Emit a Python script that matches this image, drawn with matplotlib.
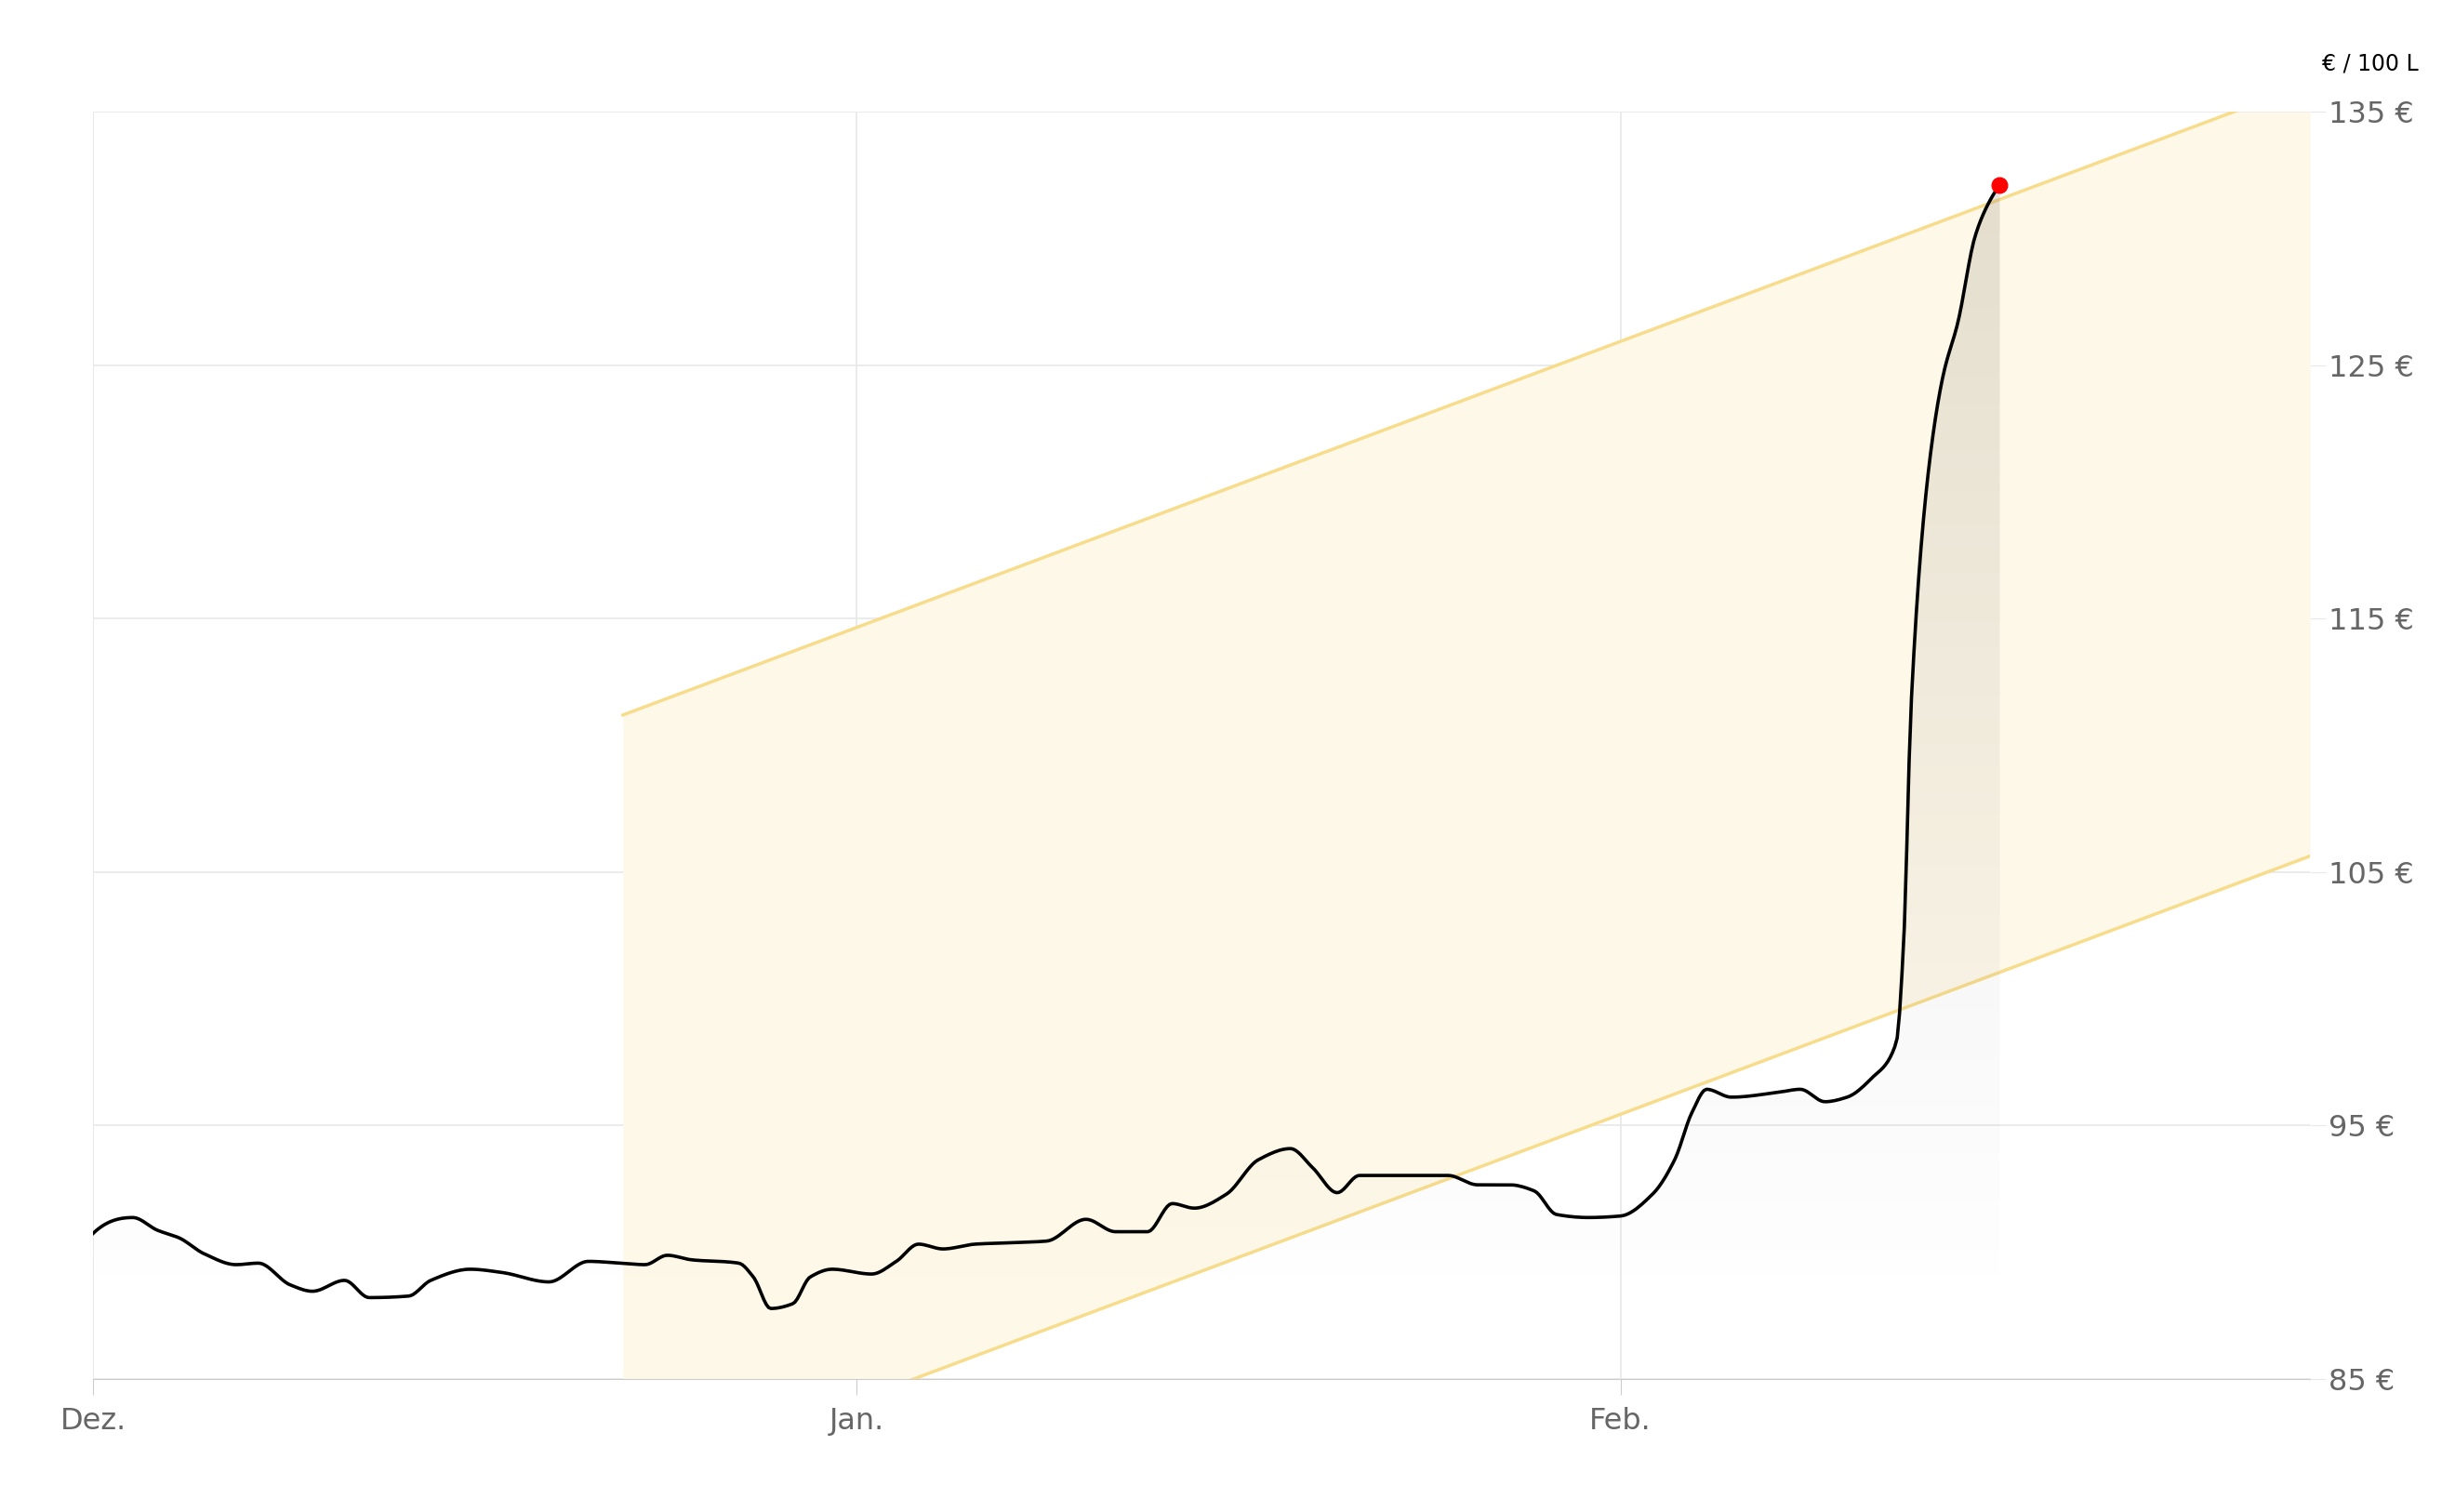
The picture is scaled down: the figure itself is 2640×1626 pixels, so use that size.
import matplotlib
matplotlib.use("Agg")
import matplotlib.pyplot as plt
import numpy as np
from matplotlib.patches import Polygon
from matplotlib.colors import LinearSegmentedColormap

# days since 1 Dec
days = [0,1.6,2.6,3.5,4.5,5.8,6.7,8.0,8.9,10.2,11.2,12.8,13.7,15.3,16.6,18.5,20.1,21.4,22.4,23.3,24.3,26.2,26.8,27.5,28.4,29.1,30.0,31.6,32.6,33.5,34.5,35.8,37.4,38.7,40.3,41.5,42.8,43.8,44.7,46.0,47.3,48.6,49.5,50.5,51.4,52.7,55.0,56.2,57.5,58.5,59.4,60.7,62.0,63.3,64.2,64.9,65.5,66.5,68.4,69.3,70.3,71.2,72.2,73.2,73.5,73.8,74.5,75.1,75.7,76.4,77.0,77.4]
price = [90.75,91.37,90.87,90.56,89.94,89.51,89.57,88.71,88.46,88.89,88.21,88.27,88.89,89.33,89.20,88.83,89.64,89.57,89.51,89.88,89.70,89.57,89.02,87.78,87.97,89.02,89.33,89.14,89.64,90.32,90.13,90.32,90.38,90.44,91.30,90.81,90.81,91.92,91.74,92.29,93.65,94.09,93.34,92.35,93.03,93.03,93.03,92.66,92.66,92.42,91.49,91.37,91.43,92.29,93.65,95.51,96.43,96.12,96.31,96.43,95.94,96.12,96.87,98.29,102.3,111.6,120.8,124.6,126.7,130.1,131.5,132.1]
channel_start = 21.5
channel_upper_start = 111.2
channel_lower_start = 80.7
channel_slope = 0.364
x_end = 90
tick_pos = [0, 31, 62]
tick_labels = ["Dez.", "Jan.", "Feb."]
y_ticks = [85, 95, 105, 115, 125, 135]

xs = np.linspace(days[0], days[-1], 800)
try:
    from scipy.interpolate import PchipInterpolator
    ys = PchipInterpolator(days, price)(xs)
except Exception:
    ys = np.interp(xs, days, price)

fig = plt.figure(figsize=(26.4, 16.26), dpi=100)
ax = fig.add_axes([0.038, 0.088, 0.903, 0.838])

cx = np.linspace(channel_start, x_end, 200)
up = channel_upper_start + channel_slope * (cx - channel_start)
lo = channel_lower_start + channel_slope * (cx - channel_start)
ax.fill_between(cx, np.clip(lo, 85, 135), np.clip(up, 85, 135), color="#fdf8e8", zorder=1, lw=0)
ax.plot(cx, up, color="#f7dc8c", lw=2.5, zorder=2)
ax.plot(cx, lo, color="#f7dc8c", lw=2.5, zorder=2)

grad = np.linspace(0, 1, 256).reshape(-1, 1)
cmap = LinearSegmentedColormap.from_list("g", [(0.5, 0.5, 0.5, 0.0), (0.45, 0.4, 0.35, 0.18)])
im = ax.imshow(grad, extent=[0, days[-1], 88, max(price)], origin="lower", aspect="auto", cmap=cmap, zorder=3)
poly = Polygon(np.column_stack([np.r_[xs, xs[-1], xs[0]], np.r_[ys, 88, 88]]), transform=ax.transData, closed=True)
im.set_clip_path(poly)
ax.set_xlim(0, x_end); ax.set_ylim(85, 135)

ax.plot(xs, ys, color="black", lw=2.6, zorder=4)
ax.plot(days[-1], price[-1], "o", color="red", ms=12, zorder=5)

for s in ["top", "left", "right"]:
    ax.spines[s].set_visible(False)
ax.spines["bottom"].set_color("#cccccc")
ax.grid(True, color="#e8e8e8", lw=1.2, zorder=0)
ax.set_axisbelow(True)
ax.axvline(0, color="#e8e8e8", lw=1.2, zorder=0)
ax.set_xticks(tick_pos)
ax.set_xticklabels(tick_labels, fontsize=23, color="#666666")
ax.set_yticks(y_ticks)
ax.set_yticklabels([f"{v} €" for v in y_ticks], fontsize=23, color="#666666")
ax.yaxis.tick_right()
ax.tick_params(axis="y", length=12, color="#e8e8e8", pad=2)
ax.tick_params(axis="x", length=12, color="#cccccc", pad=10)
fig.text(0.985, 0.958, "€ / 100 L", ha="right", va="center", fontsize=17, color="black")
fig.savefig("out.png", dpi=100, facecolor="white")
